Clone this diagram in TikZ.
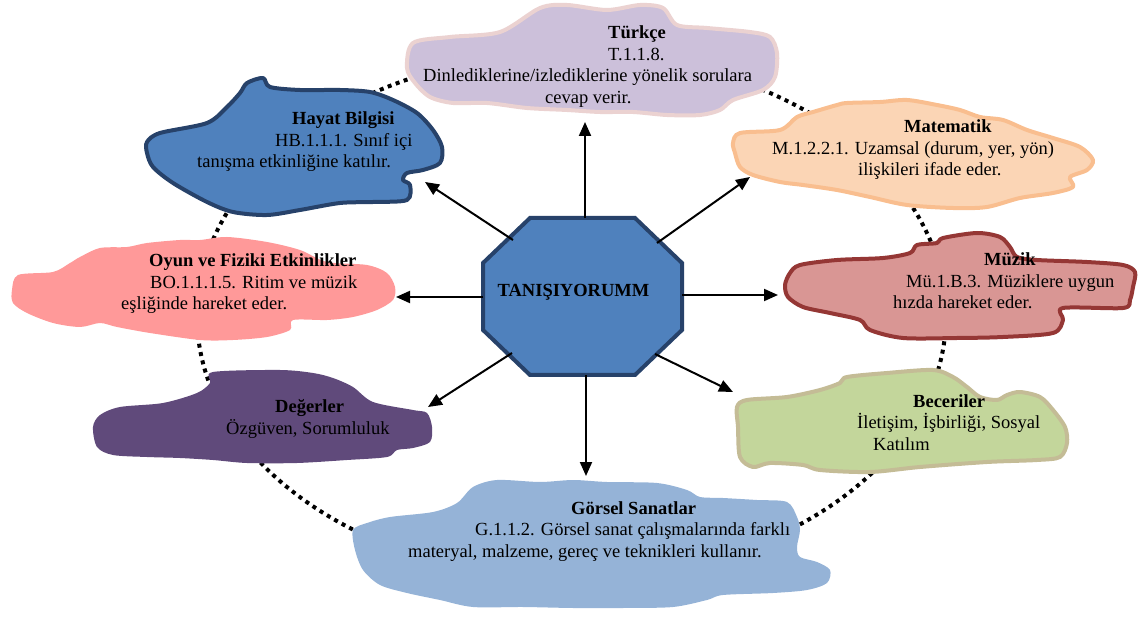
\documentclass[tikz,border=0pt]{standalone}
\usepackage{fontspec}
\setmainfont{Liberation Serif}
\usetikzlibrary{arrows.meta}
\definecolor{turfill}{HTML}{CCC0DA}
\definecolor{turdraw}{HTML}{EBD2D1}
\definecolor{hbfill}{HTML}{4F81BD}
\definecolor{hbdraw}{HTML}{27426A}
\definecolor{matfill}{HTML}{FBD5B5}
\definecolor{matdraw}{HTML}{F9BE8F}
\definecolor{oyfill}{HTML}{FF9999}
\definecolor{muzfill}{HTML}{D99694}
\definecolor{muzdraw}{HTML}{953735}
\definecolor{degfill}{HTML}{604A7B}
\definecolor{becfill}{HTML}{C3D69B}
\definecolor{becdraw}{HTML}{C4BC96}
\definecolor{gorfill}{HTML}{95B3D7}
\newcommand\mainfs{\fontsize{18.5}{21.5}\selectfont}
\begin{document}
\begin{tikzpicture}[x=1pt,y=-1pt,
  cloud/.style={line width=4pt,line join=round},
  blob/.style={smooth cycle,tension=0.5},
  txt/.style={anchor=base west,align=left,inner sep=0pt,font=\mainfs},
  arr/.style={line width=2pt,-{Triangle[length=14pt,width=12pt]}},
  ring/.style={line width=4pt,dash pattern=on 4pt off 4.5pt}]
\useasboundingbox (0,0) rectangle (1138,617);
% dotted ring
\draw[ring] (571.5,316) ellipse [x radius=374.5pt, y radius=263pt];
% Türkçe
\filldraw[cloud,fill=turfill,draw=turdraw] plot[blob] coordinates {
 (407,68) (413,43) (450,37) (500,32) (540,8) (567,5) (607,10) (640,5) (663,8) (677,25) (707,28) (750,32) (770,37) (777,53) (775,77) (763,90) (733,100) (720,110) (700,115) (667,115) (633,112) (600,112) (567,110) (527,108) (487,103) (453,103) (430,97) (415,83)};
% Hayat Bilgisi
\filldraw[cloud,fill=hbfill,draw=hbdraw] plot[blob] coordinates {
 (147,142) (160,133) (207,123) (227,107) (240,93) (247,83) (263,78) (270,87) (300,90) (340,90) (370,92) (393,100) (417,113) (433,130) (442,147) (440,163) (423,170) (407,173) (403,180) (410,185) (407,200) (373,202) (340,203) (300,210) (267,215) (233,212) (207,202) (173,183) (153,167) (147,153)};
% Matematik
\filldraw[cloud,fill=matfill,draw=matdraw] plot[blob] coordinates {
 (733,143) (740,133) (780,130) (797,117) (813,112) (837,105) (847,103) (880,102) (907,100) (937,105) (960,110) (980,117) (1003,120) (1027,130) (1053,138) (1080,147) (1093,160) (1087,170) (1070,177) (1073,187) (1053,193) (1020,198) (987,207) (953,208) (907,205) (870,197) (837,190) (803,185) (780,182) (753,175) (740,167) (735,153)};
% Oyun ve Fiziki Etkinlikler
\fill[oyfill] plot[blob] coordinates {
 (12,290) (18,275) (53,272) (70,263) (80,257) (100,248) (127,247) (147,243) (180,240) (200,240) (227,237) (267,242) (300,250) (327,262) (367,265) (387,273) (395,287) (393,300) (377,310) (353,317) (327,320) (293,320) (290,330) (267,337) (233,340) (200,340) (150,333) (117,327) (100,323) (80,327) (53,323) (27,313) (13,303)};
% Müzik
\filldraw[cloud,fill=muzfill,draw=muzdraw] plot[blob] coordinates {
 (785,285) (790,273) (800,265) (837,260) (883,258) (910,253) (917,245) (937,243) (943,238) (977,233) (1000,237) (1010,247) (1017,257) (1037,260) (1087,262) (1123,265) (1135,272) (1133,287) (1130,300) (1123,308) (1063,308) (1063,320) (1053,333) (1003,337) (957,338) (903,338) (870,330) (860,320) (830,313) (803,307) (788,297)};
% Değerler
\fill[degfill] plot[blob] coordinates {
 (93,427) (100,415) (120,407) (163,403) (197,393) (210,383) (213,372) (280,370) (313,373) (333,378) (353,387) (373,402) (413,410) (427,413) (432,427) (430,442) (413,448) (397,450) (387,457) (347,460) (297,463) (247,463) (213,460) (180,458) (147,457) (113,455) (97,447)};
% Beceriler
\filldraw[cloud,fill=becfill,draw=becdraw] plot[blob] coordinates {
 (737,407) (747,400) (787,397) (820,390) (840,383) (847,377) (887,373) (933,370) (953,377) (967,387) (980,397) (997,400) (1007,395) (1020,392) (1040,397) (1053,410) (1065,427) (1067,443) (1060,457) (1037,460) (987,462) (920,467) (870,472) (820,470) (803,465) (770,463) (753,467) (740,457) (738,427)};
% Görsel Sanatlar
\fill[gorfill] plot[blob] coordinates {
 (353,530) (367,523) (390,517) (433,512) (457,503) (473,487) (497,480) (540,482) (573,480) (607,482) (657,483) (687,490) (700,497) (723,498) (757,500) (787,502) (797,517) (800,530) (797,547) (800,557) (817,562) (830,570) (827,583) (807,590) (773,593) (723,595) (707,600) (673,607) (623,608) (573,608) (523,607) (473,607) (440,600) (407,593) (380,585) (363,570) (355,550)};
% central octagon
\filldraw[line width=4pt,line join=miter,fill=hbfill,draw=hbdraw]
 (530,218) -- (635,218) -- (682,263) -- (682,330) -- (635,375) -- (530,375) -- (483,330) -- (483,263) -- cycle;
\node[anchor=base,inner sep=0pt,font=\mainfs\bfseries] (c) at (573.5,297) {TANIŞIYORUMM};
% connector end points
\coordinate (oN) at (585,218);  \coordinate (tTR) at (585,122);
\coordinate (oS) at (586,375);  \coordinate (tGS) at (586,476);
\coordinate (oW) at (483,297);  \coordinate (tOY) at (396,297);
\coordinate (oE) at (682,295);  \coordinate (tMZ) at (778,295);
\coordinate (oNW) at (513,240); \coordinate (tHB) at (425,182);
\coordinate (oNE) at (657,243); \coordinate (tMT) at (750,177);
\coordinate (oSW) at (512,353); \coordinate (tDG) at (428,407);
\coordinate (oSE) at (655,354); \coordinate (tBC) at (733,392);
\draw[arr] (oN) -- (tTR);
\draw[arr] (oS) -- (tGS);
\draw[arr] (oW) -- (tOY);
\draw[arr] (oE) -- (tMZ);
\draw[arr] (oNW) -- (tHB);
\draw[arr] (oNE) -- (tMT);
\draw[arr] (oSW) -- (tDG);
\draw[arr] (oSE) -- (tBC);
% texts (node base = baseline of the last line)
\node[txt] (tr) at (423,103.5) {\hspace*{185pt}\textbf{Türkçe}\\\hspace*{185pt}T.1.1.8.\\Dinlediklerine/izlediklerine yönelik sorulara\\\hspace*{122pt}cevap verir.};
\node[txt] (hb) at (197,168) {\hspace*{95pt}\textbf{Hayat Bilgisi}\\\hspace*{78pt}HB.1.1.1. Sınıf içi\\tanışma etkinliğine katılır.};
\node[txt] (mt) at (772,176) {\hspace*{132pt}\textbf{Matematik}\\M.1.2.2.1. Uzamsal (durum, yer, yön)\\\hspace*{86pt}ilişkileri ifade eder.};
\node[txt] (oy) at (121,310) {\hspace*{28pt}\textbf{Oyun ve Fiziki Etkinlikler}\\\hspace*{29pt}BO.1.1.1.5. Ritim ve müzik\\eşliğinde hareket eder.};
\node[txt] (mz) at (893,309) {\hspace*{91pt}\textbf{Müzik}\\\hspace*{13pt}Mü.1.B.3. Müziklere uygun\\hızda hareket eder.};
\node[txt] (dg) at (226,434.5) {\hspace*{49pt}\textbf{Değerler}\\Özgüven, Sorumluluk};
\node[txt] (bc) at (857,450) {\hspace*{56pt}\textbf{Beceriler}\\İletişim, İşbirliği, Sosyal\\\hspace*{16pt}Katılım};
\node[txt] (gs) at (408,557) {\hspace*{163pt}\textbf{Görsel Sanatlar}\\\hspace*{67pt}G.1.1.2. Görsel sanat çalışmalarında farklı\\materyal, malzeme, gereç ve teknikleri kullanır.};
\end{tikzpicture}
\end{document}
